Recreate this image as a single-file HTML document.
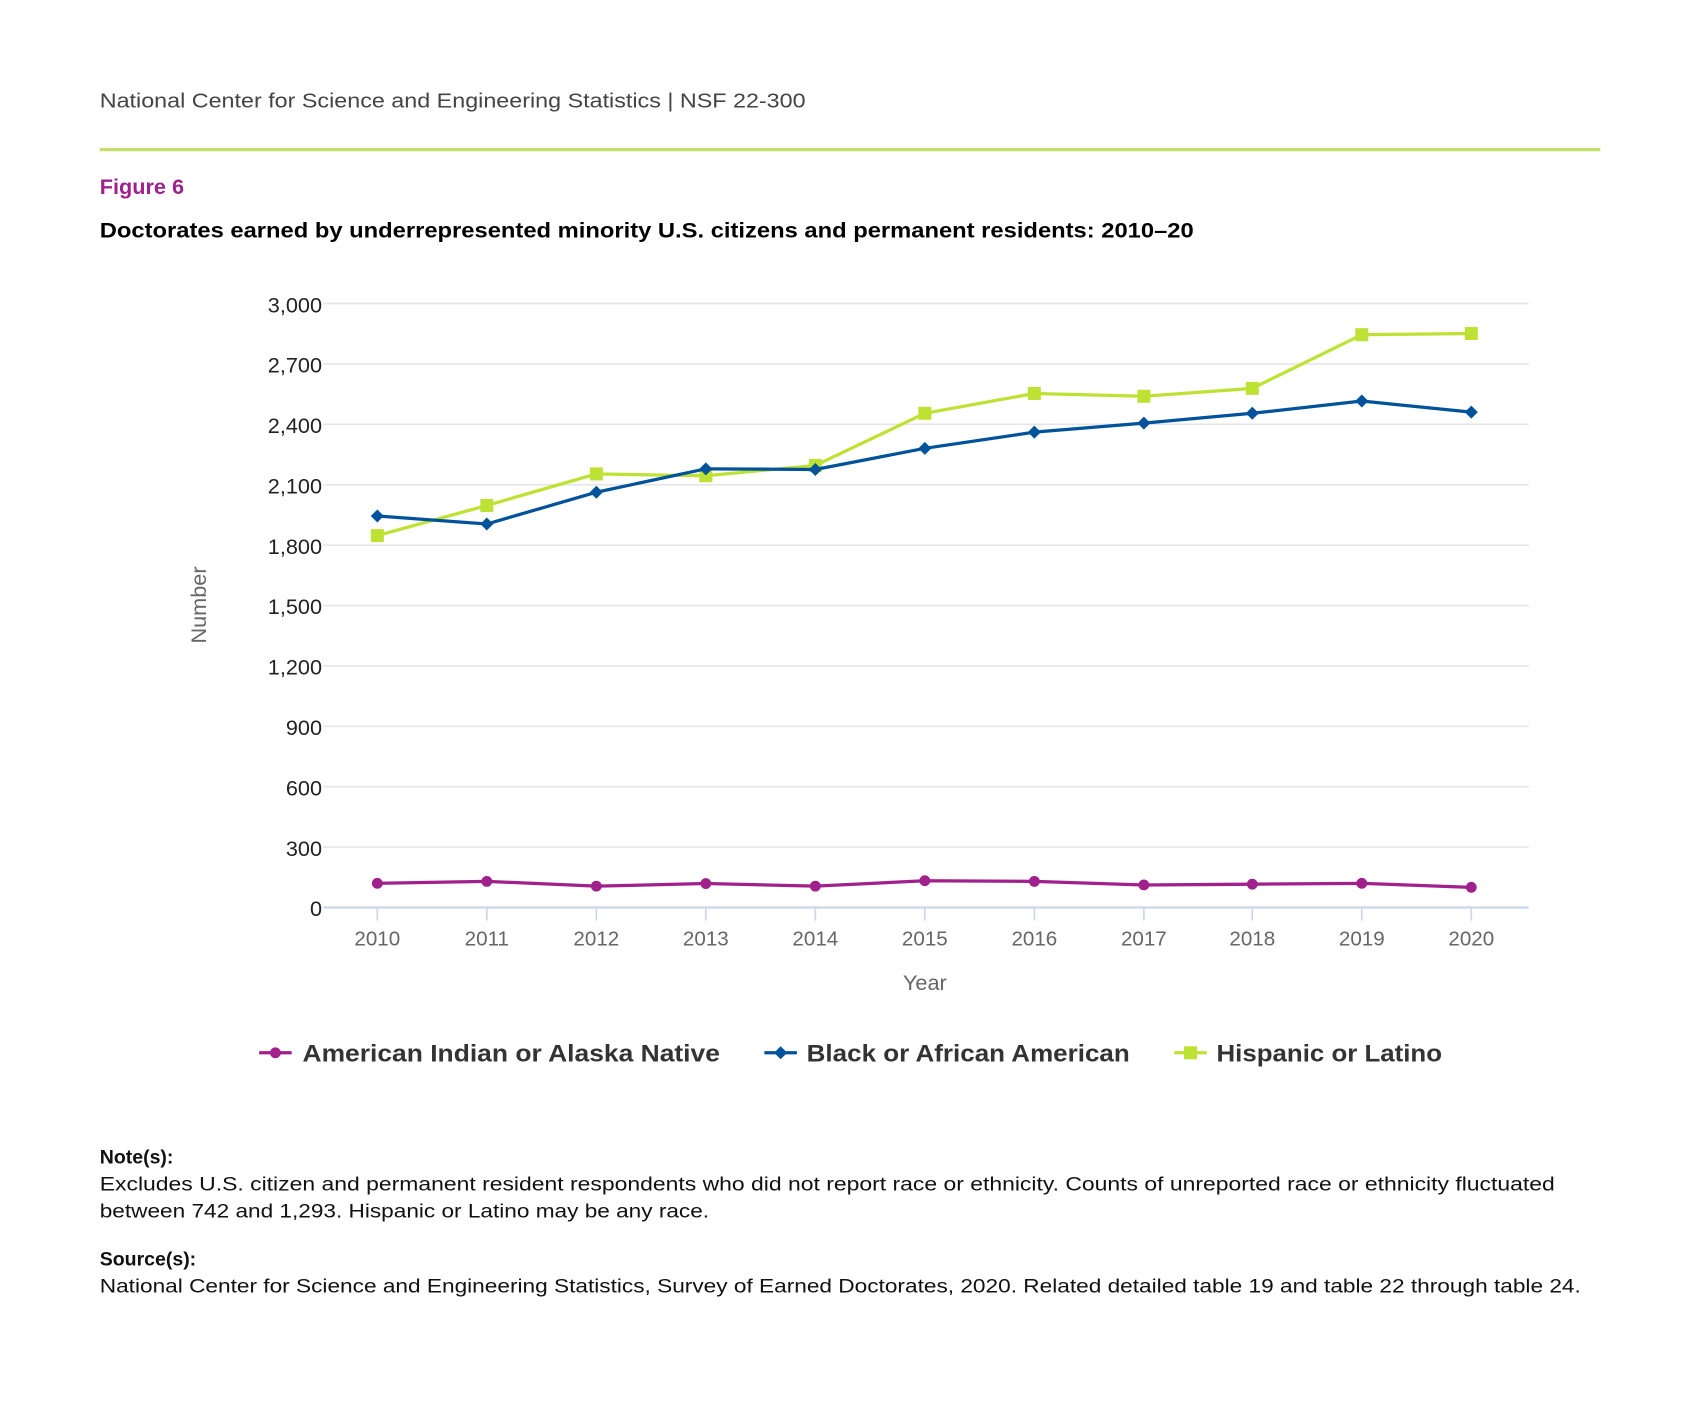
<!DOCTYPE html>
<html><head><meta charset="utf-8"><style>
html,body{margin:0;padding:0;background:#fff;}
svg{display:block;}
text{font-family:"Liberation Sans",sans-serif;}
</style></head><body>
<svg width="1699" height="1407" viewBox="0 0 1567 1297.7" xmlns="http://www.w3.org/2000/svg">
<text x="92" y="99" font-size="19" fill="#444" textLength="651" lengthAdjust="spacingAndGlyphs">National Center for Science and Engineering Statistics  |  NSF 22-300</text>
<rect x="92" y="136.5" width="1384" height="3" fill="#c5e06a"/>
<text x="92" y="179" font-size="20" font-weight="bold" fill="#a0218c">Figure 6</text>
<text x="92" y="219" font-size="20" font-weight="bold" fill="#000" textLength="1009" lengthAdjust="spacingAndGlyphs">Doctorates earned by underrepresented minority U.S. citizens and permanent residents: 2010–20</text>
<g stroke="#e6e6e6" stroke-width="1.5">
<line x1="298" x2="1410" y1="280" y2="280"/><line x1="298" x2="1410" y1="335.7" y2="335.7"/>
<line x1="298" x2="1410" y1="391.4" y2="391.4"/><line x1="298" x2="1410" y1="447.1" y2="447.1"/>
<line x1="298" x2="1410" y1="502.8" y2="502.8"/><line x1="298" x2="1410" y1="558.5" y2="558.5"/>
<line x1="298" x2="1410" y1="614.2" y2="614.2"/><line x1="298" x2="1410" y1="669.9" y2="669.9"/>
<line x1="298" x2="1410" y1="725.6" y2="725.6"/><line x1="298" x2="1410" y1="781.3" y2="781.3"/>
</g>
<line x1="298" x2="1410" y1="837" y2="837" stroke="#ccd6eb" stroke-width="2"/>
<g stroke="#ccd6eb" stroke-width="1.5">
<line x1="348" x2="348" y1="837" y2="849"/><line x1="449" x2="449" y1="837" y2="849"/><line x1="550" x2="550" y1="837" y2="849"/><line x1="651" x2="651" y1="837" y2="849"/><line x1="752" x2="752" y1="837" y2="849"/><line x1="853" x2="853" y1="837" y2="849"/><line x1="954" x2="954" y1="837" y2="849"/><line x1="1055" x2="1055" y1="837" y2="849"/><line x1="1155" x2="1155" y1="837" y2="849"/><line x1="1256" x2="1256" y1="837" y2="849"/><line x1="1357" x2="1357" y1="837" y2="849"/>
</g>
<g font-size="20" fill="#222" text-anchor="end">
<text x="297" y="288">3,000</text><text x="297" y="343.7">2,700</text><text x="297" y="399.4">2,400</text><text x="297" y="455.1">2,100</text><text x="297" y="510.8">1,800</text><text x="297" y="566.5">1,500</text><text x="297" y="622.2">1,200</text><text x="297" y="677.9">900</text><text x="297" y="733.6">600</text><text x="297" y="789.3">300</text><text x="297" y="845">0</text>
</g>
<g font-size="19" fill="#666" text-anchor="middle">
<text x="348" y="872">2010</text><text x="449" y="872">2011</text><text x="550" y="872">2012</text><text x="651" y="872">2013</text><text x="752" y="872">2014</text><text x="853" y="872">2015</text><text x="954" y="872">2016</text><text x="1055" y="872">2017</text><text x="1155" y="872">2018</text><text x="1256" y="872">2019</text><text x="1357" y="872">2020</text>
<text x="853" y="913" font-size="20">Year</text>
<text transform="translate(190,558) rotate(-90)" y="0" font-size="20">Number</text>
</g>
<polyline fill="none" stroke="#bde234" stroke-width="3" points="348,494 449,466.2 550,437.1 651,438.8 752,429.3 853,381.2 954,362.9 1055,365.5 1155,358.2 1256,308.7 1357,307.6"/>
<g fill="#bde234">
<rect x="342" y="488" width="12" height="12"/><rect x="443" y="460.2" width="12" height="12"/><rect x="544" y="431.1" width="12" height="12"/><rect x="645" y="432.8" width="12" height="12"/><rect x="746" y="423.3" width="12" height="12"/><rect x="847" y="375.2" width="12" height="12"/><rect x="948" y="356.9" width="12" height="12"/><rect x="1049" y="359.5" width="12" height="12"/><rect x="1149" y="352.2" width="12" height="12"/><rect x="1250" y="302.7" width="12" height="12"/><rect x="1351" y="301.6" width="12" height="12"/>
</g>
<polyline fill="none" stroke="#00539b" stroke-width="3" points="348,475.9 449,483.3 550,454 651,432.4 752,433 853,413.5 954,398.6 1055,390.3 1155,381.2 1256,369.9 1357,380.1"/>
<g fill="#00539b">
<path d="M348,469.9l6,6l-6,6l-6,-6z"/><path d="M449,477.3l6,6l-6,6l-6,-6z"/><path d="M550,448l6,6l-6,6l-6,-6z"/><path d="M651,426.4l6,6l-6,6l-6,-6z"/><path d="M752,427l6,6l-6,6l-6,-6z"/><path d="M853,407.5l6,6l-6,6l-6,-6z"/><path d="M954,392.6l6,6l-6,6l-6,-6z"/><path d="M1055,384.3l6,6l-6,6l-6,-6z"/><path d="M1155,375.2l6,6l-6,6l-6,-6z"/><path d="M1256,363.9l6,6l-6,6l-6,-6z"/><path d="M1357,374.1l6,6l-6,6l-6,-6z"/>
</g>
<polyline fill="none" stroke="#a0218c" stroke-width="3" points="348,814.7 449,812.9 550,817.3 651,814.9 752,817.3 853,812.3 954,812.9 1055,816.2 1155,815.5 1256,814.7 1357,818.4"/>
<g fill="#a0218c">
<circle cx="348" cy="814.7" r="5"/><circle cx="449" cy="812.9" r="5"/><circle cx="550" cy="817.3" r="5"/><circle cx="651" cy="814.9" r="5"/><circle cx="752" cy="817.3" r="5"/><circle cx="853" cy="812.3" r="5"/><circle cx="954" cy="812.9" r="5"/><circle cx="1055" cy="816.2" r="5"/><circle cx="1155" cy="815.5" r="5"/><circle cx="1256" cy="814.7" r="5"/><circle cx="1357" cy="818.4" r="5"/>
</g>
<g font-size="22" font-weight="bold" fill="#333">
<line x1="239" x2="269" y1="971" y2="971" stroke="#a0218c" stroke-width="3"/><circle cx="254" cy="971" r="5" fill="#a0218c"/>
<text x="279" y="979" textLength="385" lengthAdjust="spacingAndGlyphs">American Indian or Alaska Native</text>
<line x1="705" x2="735" y1="971" y2="971" stroke="#00539b" stroke-width="3"/><path d="M720,965l6,6l-6,6l-6,-6z" fill="#00539b"/>
<text x="744" y="979" textLength="298" lengthAdjust="spacingAndGlyphs">Black or African American</text>
<line x1="1083" x2="1113" y1="971" y2="971" stroke="#bde234" stroke-width="3"/><rect x="1092" y="965" width="12" height="12" fill="#bde234"/>
<text x="1122" y="979" textLength="208" lengthAdjust="spacingAndGlyphs">Hispanic or Latino</text>
</g>
<g font-size="18" fill="#111">
<text x="92" y="1073" font-weight="bold">Note(s):</text>
<text x="92" y="1098" textLength="1342" lengthAdjust="spacingAndGlyphs">Excludes U.S. citizen and permanent resident respondents who did not report race or ethnicity. Counts of unreported race or ethnicity fluctuated</text>
<text x="92" y="1123" textLength="562" lengthAdjust="spacingAndGlyphs">between 742 and 1,293. Hispanic or Latino may be any race.</text>
<text x="92" y="1167" font-weight="bold">Source(s):</text>
<text x="92" y="1192" textLength="1366" lengthAdjust="spacingAndGlyphs">National Center for Science and Engineering Statistics, Survey of Earned Doctorates, 2020. Related detailed table 19 and table 22 through table 24.</text>
</g>
</svg>
</body></html>
